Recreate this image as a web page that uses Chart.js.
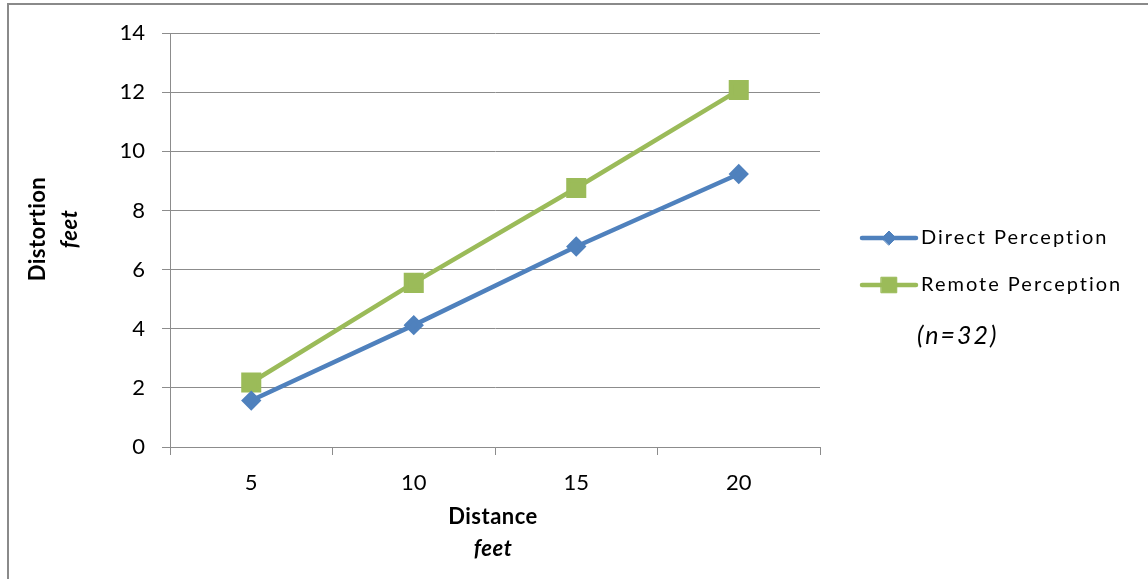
<!DOCTYPE html>
<html>
<head>
<meta charset="utf-8">
<script src="https://cdn.jsdelivr.net/npm/chart.js@4.4.1/dist/chart.umd.min.js"></script>
<style>
    html, body { margin: 0; padding: 0; background: #fff; }
    #wrap { position: relative; width: 1148px; height: 579px; overflow: hidden; }
    #frame {
        position: absolute; left: 7px; top: 3px; width: 1200px; height: 640px;
        border-top: 2px solid #8a8a8a; border-left: 2px solid #8a8a8a;
    }
    #chart { position: absolute; left: 0; top: 0; }
</style>
</head>
<body>
<div id="wrap">
    <div id="frame"></div>
    <canvas id="chart" width="1148" height="579"></canvas>
</div>
<script>
// Chart data
const distances = ['5', '10', '15', '20'];
const directPerception = [1.57, 4.12, 6.78, 9.23];
const remotePerception = [2.18, 5.55, 8.76, 12.07];
const seriesLabels = ['Direct Perception', 'Remote Perception'];
const sampleNote = '(n=32)';

const gridColor = '#8c8c8c';
const fontFamily = 'Lato, "Open Sans", sans-serif';

// Axis titles drawn with mixed bold / bold-italic lines
const axisTitles = {
    id: 'axisTitles',
    afterDraw(chart) {
        const ctx = chart.ctx;
        const area = chart.chartArea;
        ctx.save();
        ctx.fillStyle = '#000';
        ctx.textAlign = 'center';
        ctx.textBaseline = 'middle';
        ctx.letterSpacing = '0.5px';

        const cx = (area.left + area.right) / 2;
        ctx.font = 'bold 22px ' + fontFamily;
        ctx.fillText('Distance', cx - 2, 517);
        ctx.font = 'italic bold 22px ' + fontFamily;
        ctx.fillText('feet', cx - 2, 549);

        ctx.translate(38, 229);
        ctx.rotate(-Math.PI / 2);
        ctx.font = 'bold 22px ' + fontFamily;
        ctx.fillText('Distortion', 0, 0);
        ctx.font = 'italic bold 22px ' + fontFamily;
        ctx.fillText('feet', 0, 32);
        ctx.restore();
    }
};

// Excel style legend: line sample with marker, plus the sample size note
const sideLegend = {
    id: 'sideLegend',
    afterDraw(chart) {
        const ctx = chart.ctx;
        const rows = [238, 285];
        ctx.save();
        chart.data.datasets.forEach((ds, i) => {
            const y = rows[i];
            ctx.strokeStyle = ds.borderColor;
            ctx.lineWidth = ds.borderWidth;
            ctx.lineCap = 'round';
            ctx.beginPath();
            ctx.moveTo(862, y);
            ctx.lineTo(916, y);
            ctx.stroke();
            ctx.fillStyle = ds.pointBackgroundColor;
            ctx.strokeStyle = ds.pointBorderColor;
            ctx.lineWidth = 1;
            Chart.helpers.drawPoint(ctx, {
                pointStyle: ds.pointStyle,
                radius: ds.pointRadius,
                borderWidth: 1,
                rotation: 0
            }, 889, y);
            ctx.fillStyle = '#000';
            ctx.font = '20px ' + fontFamily;
            ctx.letterSpacing = '2px';
            ctx.textAlign = 'left';
            ctx.textBaseline = 'middle';
            ctx.fillText(ds.label, 921, y);
        });
        ctx.font = 'italic 25px ' + fontFamily;
        ctx.letterSpacing = '2px';
        ctx.fillText(sampleNote, 917, 336);
        ctx.restore();
    }
};

const ctx = document.getElementById('chart').getContext('2d');
new Chart(ctx, {
    type: 'line',
    data: {
        labels: distances,
        datasets: [{
            label: seriesLabels[0],
            data: directPerception,
            borderColor: '#4f81bd',
            backgroundColor: '#4f81bd',
            pointBackgroundColor: '#4f81bd',
            pointBorderColor: '#4f81bd',
            pointStyle: 'rectRot',
            pointRadius: 7,
            borderWidth: 4.5
        }, {
            label: seriesLabels[1],
            data: remotePerception,
            borderColor: '#9bbb59',
            backgroundColor: '#9bbb59',
            pointBackgroundColor: '#9bbb59',
            pointBorderColor: '#9bbb59',
            pointStyle: 'rect',
            pointRadius: 11,
            borderWidth: 4.5
        }]
    },
    options: {
        responsive: false,
        animation: false,
        layout: { padding: { left: 0, top: 33, right: 328, bottom: 0 } },
        plugins: {
            legend: { display: false },
            tooltip: { enabled: false }
        },
        elements: {
            line: { tension: 0, borderCapStyle: 'round', borderJoinStyle: 'round' },
            point: { borderWidth: 1 }
        },
        scales: {
            x: {
                type: 'category',
                offset: true,
                afterFit: (scale) => { scale.height = 132; },
                grid: {
                    offset: true,
                    drawOnChartArea: false,
                    drawTicks: true,
                    tickLength: 8,
                    color: gridColor
                },
                border: { color: gridColor, width: 1 },
                ticks: {
                    color: '#000',
                    padding: 15,
                    font: { family: fontFamily, size: 22 }
                }
            },
            y: {
                min: 0,
                max: 14,
                afterFit: (scale) => { scale.width = 170; },
                grid: {
                    color: gridColor,
                    tickLength: 8
                },
                border: { color: gridColor, width: 1 },
                ticks: {
                    stepSize: 2,
                    color: '#000',
                    padding: 17,
                    font: { family: fontFamily, size: 22 }
                }
            }
        }
    },
    plugins: [axisTitles, sideLegend]
});
</script>
</body>
</html>
